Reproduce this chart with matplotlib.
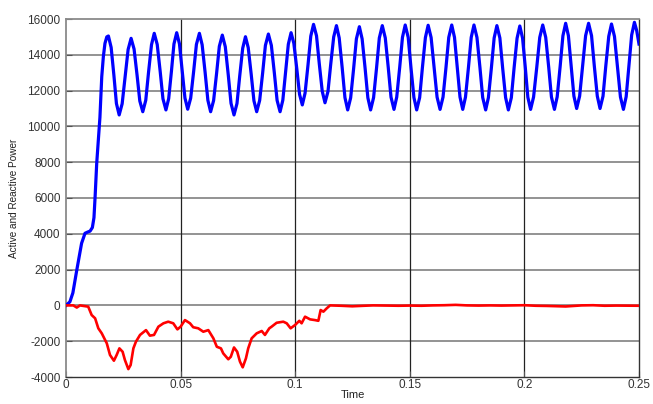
import matplotlib
matplotlib.use("Agg")
import matplotlib.pyplot as plt

# ---- Active power (blue) ----
active_t = [
    0.0, 0.0017, 0.0030, 0.0047, 0.0068, 0.0083, 0.0095, 0.0105, 0.0115, 0.0122,
    0.0127, 0.0134, 0.0141, 0.0148, 0.0156, 0.0163, 0.0170, 0.0178,
    0.0185, 0.0197, 0.0209, 0.0220,
    0.0232, 0.0245, 0.0258, 0.0271,
    0.0284, 0.0297, 0.0310, 0.0322,
    0.0335, 0.0348, 0.0360, 0.0373,
    0.0385, 0.0398, 0.0411, 0.0423,
    0.0436, 0.0448, 0.0460, 0.0471,
    0.0483, 0.0495, 0.0507, 0.0519,
    0.0531, 0.0544, 0.0557, 0.0569,
    0.0582, 0.0594, 0.0607, 0.0619,
    0.0631, 0.0644, 0.0657, 0.0669,
    0.0682, 0.0695, 0.0708, 0.0720,
    0.0733, 0.0746, 0.0758, 0.0771,
    0.0783, 0.0795, 0.0808, 0.0820,
    0.0832, 0.0845, 0.0858, 0.0870,
    0.0883, 0.0896, 0.0909, 0.0921,
    0.0934, 0.0946, 0.0958, 0.0970,
    0.0982, 0.0994, 0.1007, 0.1019,
    0.1031, 0.1043, 0.1056, 0.1068,
    0.1080, 0.1093, 0.1105, 0.1118,
    0.1130, 0.1143, 0.1155, 0.1168,
    0.1180, 0.1192, 0.1205, 0.1217,
    0.1229, 0.1242, 0.1255, 0.1267,
    0.1280, 0.1292, 0.1305, 0.1317,
    0.1329, 0.1342, 0.1355, 0.1367,
    0.1380, 0.1393, 0.1406, 0.1418,
    0.1431, 0.1443, 0.1456, 0.1468,
    0.1480, 0.1493, 0.1505, 0.1518,
    0.1530, 0.1543, 0.1555, 0.1568,
    0.1580, 0.1593, 0.1606, 0.1619,
    0.1632, 0.1645, 0.1658, 0.1670,
    0.1683, 0.1695, 0.1707, 0.1719,
    0.1731, 0.1743, 0.1756, 0.1768,
    0.1780, 0.1793, 0.1806, 0.1818,
    0.1831, 0.1843, 0.1856, 0.1868,
    0.1880, 0.1893, 0.1905, 0.1918,
    0.1930, 0.1943, 0.1955, 0.1968,
    0.1980, 0.1992, 0.2004, 0.2015,
    0.2027, 0.2040, 0.2054, 0.2067,
    0.2080, 0.2093, 0.2106, 0.2118,
    0.2131, 0.2143, 0.2156, 0.2168,
    0.2180, 0.2192, 0.2204, 0.2216,
    0.2228, 0.2241, 0.2254, 0.2267,
    0.2280, 0.2293, 0.2305, 0.2318,
    0.2330, 0.2343, 0.2355, 0.2368,
    0.2380, 0.2393, 0.2406, 0.2419,
    0.2432, 0.2444, 0.2456, 0.2468,
    0.2480, 0.2490, 0.2500,
]
active_p = [
    0, 200, 700, 1970, 3470, 4030, 4100, 4150, 4350, 4900,
    6070, 7940, 9240, 10500, 12780, 13900, 14640, 15000,
    15050, 14410, 12850, 11280,
    10640, 11265, 12780, 14295,
    14920, 14320, 12870, 11420,
    10820, 11460, 13010, 14560,
    15200, 14575, 13060, 11545,
    10920, 11550, 13080, 14605,
    15235, 14610, 13100, 11585,
    10960, 11580, 13080, 14580,
    15200, 14560, 13010, 11460,
    10820, 11445, 12960, 14475,
    15100, 14450, 12870, 11290,
    10640, 11280, 12825, 14370,
    15010, 14400, 12915, 11430,
    10820, 11455, 12990, 14525,
    15160, 14525, 12990, 11455,
    10820, 11465, 13030, 14590,
    15235, 14645, 13220, 11790,
    11200, 11855, 13450, 15045,
    15700, 15060, 13510, 11960,
    11320, 11950, 13475, 15000,
    15630, 14940, 13275, 11610,
    10920, 11600, 13245, 14890,
    15570, 14890, 13245, 11600,
    10920, 11610, 13275, 14940,
    15630, 14945, 13290, 11635,
    10950, 11640, 13310, 14975,
    15665, 14970, 13295, 11615,
    10920, 11610, 13285, 14960,
    15650, 14965, 13300, 11635,
    10950, 11640, 13310, 14975,
    15665, 14975, 13310, 11640,
    10950, 11640, 13310, 14975,
    15665, 14970, 13295, 11615,
    10920, 11610, 13275, 14940,
    15630, 14940, 13275, 11610,
    10920, 11605, 13265, 14925,
    15610, 14930, 13280, 11630,
    10950, 11640, 13310, 14975,
    15665, 14975, 13310, 11640,
    10950, 11650, 13355, 15060,
    15760, 15065, 13380, 11695,
    11000, 11695, 13380, 15065,
    15760, 15065, 13380, 11695,
    11000, 11690, 13360, 15030,
    15720, 15025, 13335, 11645,
    10950, 11660, 13385, 15105,
    15815, 15350, 14600,
]

# ---- Reactive power (red) ----
reactive_t = [
    0.0, 0.0003, 0.0032, 0.0047, 0.0061, 0.0097, 0.0112, 0.0127, 0.0141, 0.0156,
    0.0178, 0.0192, 0.0209, 0.0221, 0.0233, 0.0247, 0.0257, 0.0272, 0.0282, 0.0294,
    0.0305, 0.0323, 0.0349, 0.0366, 0.0384, 0.0403, 0.0425, 0.0446, 0.0468, 0.0486,
    0.0500, 0.0519, 0.0541, 0.0555, 0.0577, 0.0599, 0.0621, 0.0643, 0.0658, 0.0676,
    0.0686, 0.0708, 0.0719, 0.0733, 0.0747, 0.0759, 0.0771, 0.0785, 0.0795, 0.0810,
    0.0832, 0.0854, 0.0868, 0.0887, 0.0897, 0.0919, 0.0948, 0.0963, 0.0980, 0.0999,
    0.1018, 0.1028, 0.1043, 0.1065, 0.1086, 0.1101, 0.1111, 0.1123, 0.1137, 0.1152,
    0.1200, 0.1249, 0.1300, 0.1340, 0.1400, 0.1450, 0.1500, 0.1550, 0.1600, 0.1650,
    0.1700, 0.1750, 0.1800, 0.1850, 0.1900, 0.2000, 0.2050, 0.2100, 0.2180, 0.2250,
    0.2300, 0.2350, 0.2400, 0.2500,
]
reactive_q = [
    0, 0, 0, -120, 0, -70, -540, -720, -1280, -1560,
    -2120, -2770, -3090, -2770, -2400, -2590, -3050, -3560, -3330, -2400,
    -2030, -1650, -1380, -1690, -1650, -1190, -1000, -910, -1000, -1340,
    -1190, -820, -1000, -1220, -1280, -1470, -1380, -1840, -2310, -2400,
    -2680, -3010, -2870, -2350, -2590, -3140, -3460, -2960, -2400, -1840,
    -1560, -1430, -1650, -1280, -1190, -970, -910, -1000, -1280, -1100,
    -860, -1000, -630, -780, -820, -860, -260, -350, -170, 0,
    -20, -50, -20, 0, -10, -20, -10, -20, 0, 10,
    30, 0, -10, 0, -10, 10, -20, -30, -60, 0,
    10, -20, -10, -20,
]

x_ticks = [0, 0.05, 0.1, 0.15, 0.2, 0.25]
x_tick_labels = ["0", "0.05", "0.1", "0.15", "0.2", "0.25"]
y_ticks = [-4000, -2000, 0, 2000, 4000, 6000, 8000, 10000, 12000, 14000, 16000]

plt.rcParams['font.family'] = ['Liberation Sans', 'DejaVu Sans']

fig = plt.figure(figsize=(6.53, 4.04), dpi=100)
ax = fig.add_axes([66 / 653, 1 - 377 / 404, (639 - 66) / 653, (377 - 19) / 404])

ax.set_xlim(0, 0.25)
ax.set_ylim(-4000, 16000)
ax.set_xticks(x_ticks)
ax.set_xticklabels(x_tick_labels)
ax.set_yticks(y_ticks)
ax.set_yticklabels([str(v) for v in y_ticks])

# grid: horizontal gray, vertical black
for yv in y_ticks[1:-1]:
    ax.axhline(yv, color='#8a8a8a', lw=1.3, zorder=1)
for xv in x_ticks[1:-1]:
    ax.axvline(xv, color='#222222', lw=0.9, zorder=1)

ax.plot(active_t, active_p, color='#0000ff', lw=2.3, zorder=3, solid_joinstyle='round')
ax.plot(reactive_t, reactive_q, color='#ff0000', lw=1.9, zorder=3, solid_joinstyle='round')

for side in ['left', 'top']:
    ax.spines[side].set_color('#8a8a8a')
    ax.spines[side].set_linewidth(1.3)
for side in ['bottom', 'right']:
    ax.spines[side].set_color('#333333')
    ax.spines[side].set_linewidth(1.0)

ax.tick_params(axis='both', direction='in', length=4, width=0.8, colors='#555555',
               labelsize=8.5, labelcolor='#333333')
ax.tick_params(axis='y', pad=4)
ax.tick_params(axis='x', pad=1.5)

ax.set_xlabel('Time', fontsize=8, color='#222222', labelpad=-0.5)
ax.set_ylabel('Active and Reactive Power', fontsize=7.2, color='#222222', labelpad=6)

fig.savefig('out.png', dpi=100, facecolor='white')
